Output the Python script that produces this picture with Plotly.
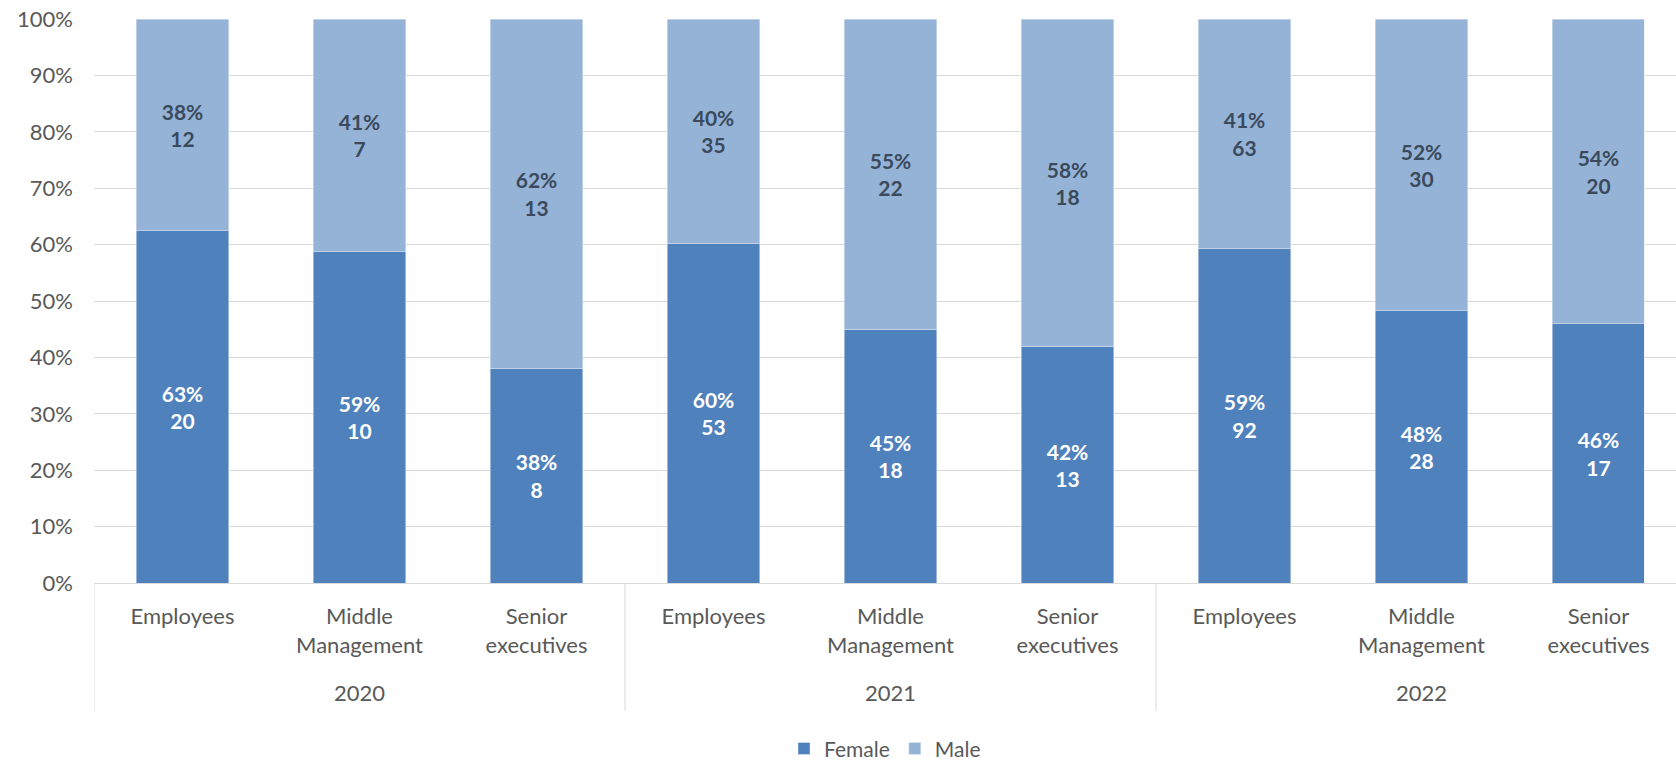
import plotly.graph_objects as go

# Staff headcount by level and gender
years = ["2020", "2020", "2020", "2021", "2021", "2021", "2022", "2022", "2022"]
levels = ["Employees", "Middle<br>Management", "Senior<br>executives"] * 3

female_count = [20, 10, 8, 53, 18, 13, 92, 28, 17]
male_count = [12, 7, 13, 35, 22, 18, 63, 30, 20]

female_pct = [63, 59, 38, 60, 45, 42, 59, 48, 46]
male_pct = [38, 41, 62, 40, 55, 58, 41, 52, 54]

FEMALE_COLOR = "#4F81BD"
MALE_COLOR = "#95B3D7"
GRID = "#D9D9D9"
TEXT = "#595959"
FONT = "Lato, Open Sans, sans-serif"

# one category per (year, level) pair; the level is shown as tick text
cat_ids = [f"{y}|{lv}" for y, lv in zip(years, levels)]

fig = go.Figure()
fig.add_trace(go.Bar(
    name="Female", x=cat_ids, y=female_count, marker_color=FEMALE_COLOR,
    text=[f"{p}%<br>{n}" for p, n in zip(female_pct, female_count)],
    textposition="inside", insidetextanchor="middle",
    textfont=dict(family=FONT, size=21, color="white", weight="bold"),
    textangle=0,
))
fig.add_trace(go.Bar(
    name="Male", x=cat_ids, y=male_count, marker_color=MALE_COLOR,
    text=[f"{p}%<br>{n}" for p, n in zip(male_pct, male_count)],
    textposition="inside", insidetextanchor="middle",
    textfont=dict(family=FONT, size=21, color="#3A4A5C", weight="bold"),
    textangle=0,
))

# year group labels and dividers below the axis
group_starts = [i for i in range(len(years)) if i == 0 or years[i] != years[i - 1]]
for k, s in enumerate(group_starts):
    e = group_starts[k + 1] if k + 1 < len(group_starts) else len(years)
    fig.add_annotation(
        x=(s + e - 1) / 2, xref="x", y=-0.195, yref="paper",
        text=years[s], showarrow=False, yanchor="middle",
        font=dict(family=FONT, size=22, color=TEXT),
    )
    fig.add_shape(
        type="line", xref="x", yref="paper",
        x0=s - 0.5, x1=s - 0.5, y0=-0.227, y1=0,
        line=dict(color=GRID, width=1),
    )

fig.update_layout(
    width=1676, height=761,
    margin=dict(l=94, r=0, t=19, b=178, autoexpand=False),
    barmode="stack", barnorm="percent", bargap=0.48,
    plot_bgcolor="white", paper_bgcolor="white",
    font=dict(family=FONT, size=21, color=TEXT),
    uniformtext=dict(mode=False),
    legend=dict(orientation="h", x=0.5, xanchor="center",
                yref="container", y=0.016, yanchor="middle",
                font=dict(size=21, color=TEXT), traceorder="normal",
                itemwidth=30),
    xaxis=dict(
        type="category", range=[-0.5, 8.438], automargin=False,
        tickmode="array", tickvals=cat_ids, ticktext=levels,
        showline=True, linecolor=GRID, linewidth=1,
        showgrid=False, ticks="", ticklabelstandoff=14,
        tickfont=dict(size=22, color=TEXT),
    ),
    yaxis=dict(
        range=[0, 100], dtick=10, ticksuffix="%", automargin=False,
        showgrid=True, gridcolor=GRID, gridwidth=1,
        zeroline=False, ticks="", ticklabelstandoff=20,
        tickfont=dict(size=22, color=TEXT),
    ),
)

fig.write_html("out.html")
